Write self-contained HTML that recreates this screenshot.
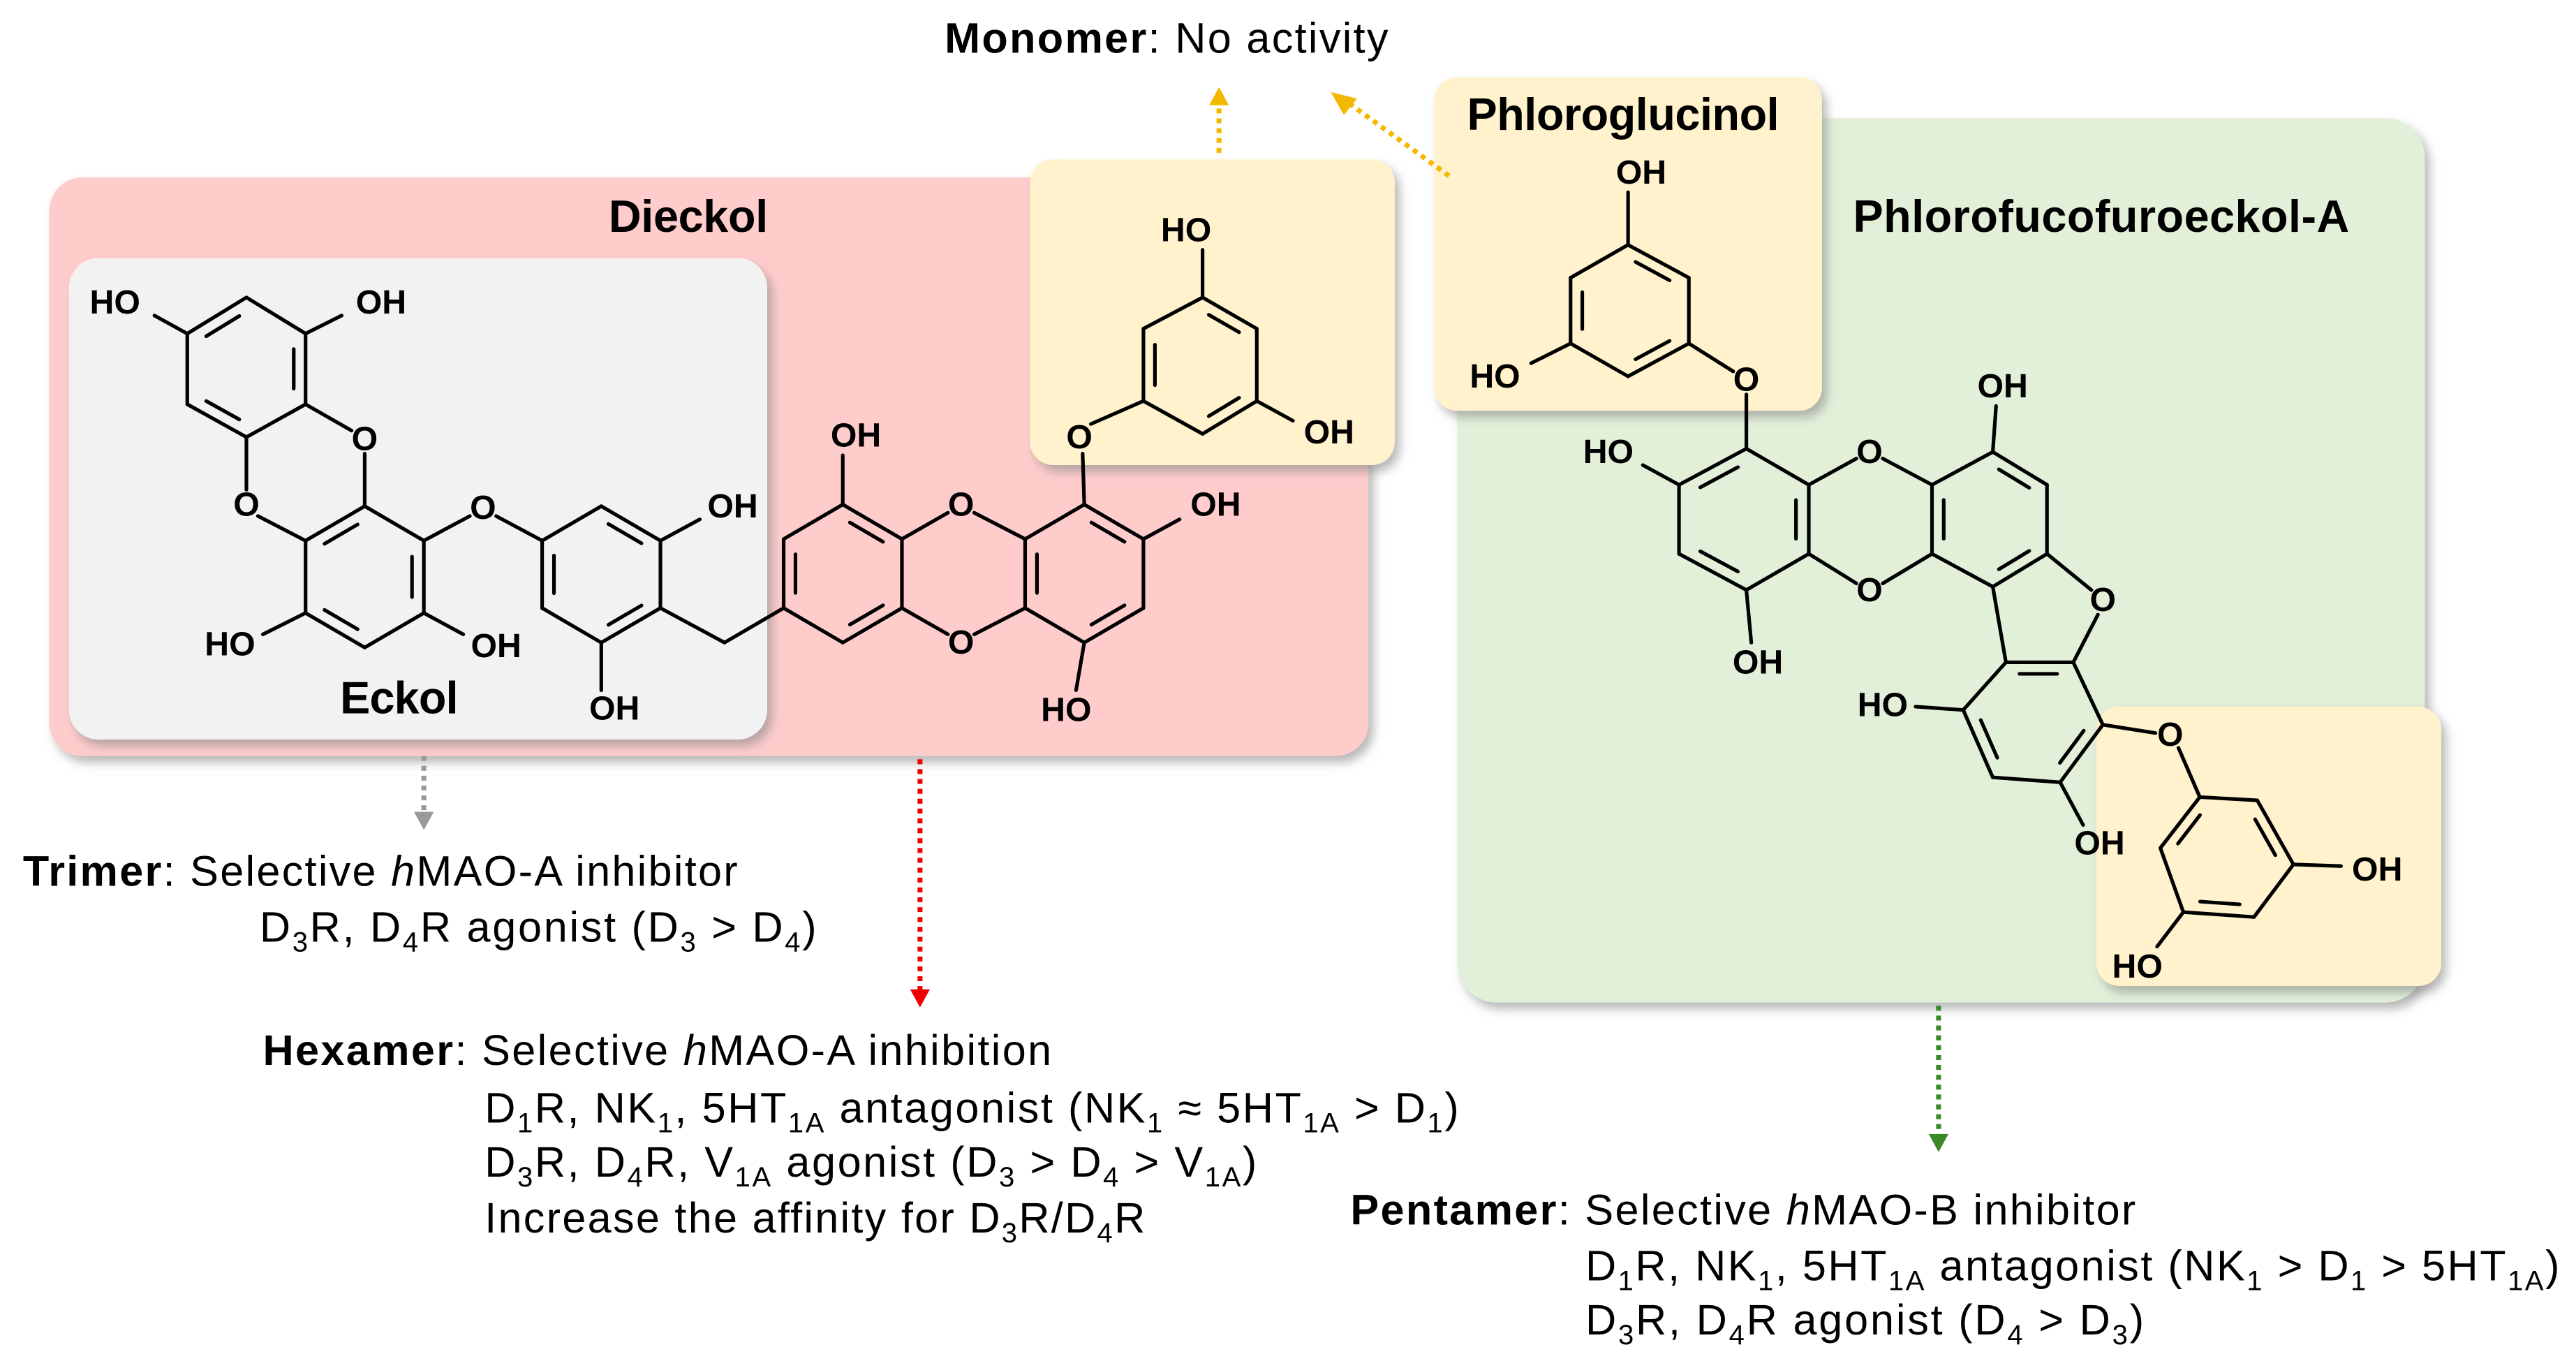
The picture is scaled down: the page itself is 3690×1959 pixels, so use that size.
<!DOCTYPE html>
<html><head><meta charset="utf-8"><style>
html,body{margin:0;padding:0;background:#fff}
svg{display:block}
.t{font-family:"Liberation Sans",sans-serif;font-size:26px;fill:#000}
.l{font-family:"Liberation Sans",sans-serif;font-size:20.5px;font-weight:bold;fill:#000;text-anchor:middle;dominant-baseline:central}
.h{font-family:"Liberation Sans",sans-serif;font-size:27.5px;font-weight:bold;fill:#000;text-anchor:middle}
</style></head><body>
<svg width="3690" height="1959" viewBox="0 0 1568 832.4" preserveAspectRatio="none" xmlns="http://www.w3.org/2000/svg">
<defs><filter id="sh" x="-5%" y="-5%" width="115%" height="115%"><feDropShadow dx="3" dy="4" stdDeviation="3" flood-color="#888" flood-opacity="0.6"/></filter></defs>
<rect x="30" y="108" width="803" height="352" rx="20" fill="#ffcccc" filter="url(#sh)"/>
<rect x="887" y="72" width="589" height="538" rx="24" fill="#e2f0d9" filter="url(#sh)"/>
<rect x="42" y="157" width="425" height="293" rx="18" fill="#f2f2f2" filter="url(#sh)"/>
<rect x="627" y="97" width="222" height="186" rx="14" fill="#fff2cc" filter="url(#sh)"/>
<rect x="873" y="47" width="236" height="203" rx="14" fill="#fff2cc" filter="url(#sh)"/>
<rect x="1276" y="430" width="210" height="170" rx="14" fill="#fff2cc" filter="url(#sh)"/>

<g id="bonds" stroke="#000" stroke-width="2.2" fill="none" stroke-linecap="round"></g>

<text class="h" x="419" y="141" textLength="97">Dieckol</text>
<text class="h" x="1279" y="141" textLength="302">Phlorofucofuroeckol-A</text>
<text class="h" x="988" y="79" textLength="190">Phloroglucinol</text>
<text class="h" x="243" y="434" textLength="72">Eckol</text>

<g>
<text class="l" x="70" y="184">HO</text><text class="l" x="232" y="184">OH</text>
<text class="l" x="222" y="267">O</text><text class="l" x="150" y="307">O</text>
<text class="l" x="140" y="392">HO</text><text class="l" x="302" y="393">OH</text>
<text class="l" x="294" y="309">O</text><text class="l" x="446" y="308">OH</text>
<text class="l" x="374" y="431">OH</text><text class="l" x="521" y="265">OH</text>
<text class="l" x="585" y="307">O</text><text class="l" x="585" y="391">O</text>
<text class="l" x="740" y="307">OH</text><text class="l" x="649" y="432">HO</text>
<text class="l" x="657" y="266">O</text><text class="l" x="722" y="140">HO</text>
<text class="l" x="809" y="263">OH</text>
<text class="l" x="999" y="105">OH</text><text class="l" x="910" y="229">HO</text>
<text class="l" x="1063" y="231">O</text><text class="l" x="979" y="275">HO</text>
<text class="l" x="1070" y="403">OH</text><text class="l" x="1138" y="275">O</text>
<text class="l" x="1138" y="359">O</text><text class="l" x="1219" y="235">OH</text>
<text class="l" x="1280" y="365">O</text><text class="l" x="1146" y="429">HO</text>
<text class="l" x="1278" y="513">OH</text><text class="l" x="1321" y="447">O</text>
<text class="l" x="1447" y="529">OH</text><text class="l" x="1301" y="588">HO</text>
</g>

<g stroke-width="3" stroke-dasharray="3 3" fill="none">
<line x1="742" y1="93" x2="742" y2="62" stroke="#f5b800"/>
<line x1="882" y1="107" x2="820" y2="62" stroke="#f5b800"/>
<line x1="258" y1="460" x2="258" y2="496" stroke="#999"/>
<line x1="560" y1="462" x2="560" y2="604" stroke="#e00"/>
<line x1="1180" y1="612" x2="1180" y2="692" stroke="#3a8a2a"/>
</g>
<polygon points="736,64 748,64 742,53" fill="#f5b800"/>
<polygon points="818,70 826,60 810,56" fill="#f5b800"/>
<polygon points="252,494 264,494 258,505" fill="#999"/>
<polygon points="554,602 566,602 560,613" fill="#e00"/>
<polygon points="1174,690 1186,690 1180,701" fill="#3a8a2a"/>

<text class="t" x="575" y="32" textLength="270"><tspan font-weight="bold">Monomer</tspan>: No activity</text>
<text class="t" x="14" y="539" textLength="435"><tspan font-weight="bold">Trimer</tspan>: Selective <tspan font-style="italic">h</tspan>MAO-A inhibitor</text>
<text class="t" x="158" y="573" textLength="339">D<tspan font-size="17" dy="6">3</tspan><tspan dy="-6">R, D</tspan><tspan font-size="17" dy="6">4</tspan><tspan dy="-6">R agonist (D</tspan><tspan font-size="17" dy="6">3</tspan><tspan dy="-6"> &gt; D</tspan><tspan font-size="17" dy="6">4</tspan><tspan dy="-6">)</tspan></text>
<text class="t" x="160" y="648" textLength="480"><tspan font-weight="bold">Hexamer</tspan>:  Selective <tspan font-style="italic">h</tspan>MAO-A inhibition</text>
<text class="t" x="295" y="683" textLength="593">D<tspan font-size="17" dy="6">1</tspan><tspan dy="-6">R, NK</tspan><tspan font-size="17" dy="6">1</tspan><tspan dy="-6">, 5HT</tspan><tspan font-size="17" dy="6">1A</tspan><tspan dy="-6"> antagonist (NK</tspan><tspan font-size="17" dy="6">1</tspan><tspan dy="-6"> ≈ 5HT</tspan><tspan font-size="17" dy="6">1A</tspan><tspan dy="-6"> &gt; D</tspan><tspan font-size="17" dy="6">1</tspan><tspan dy="-6">)</tspan></text>
<text class="t" x="295" y="716" textLength="470">D<tspan font-size="17" dy="6">3</tspan><tspan dy="-6">R, D</tspan><tspan font-size="17" dy="6">4</tspan><tspan dy="-6">R, V</tspan><tspan font-size="17" dy="6">1A</tspan><tspan dy="-6"> agonist (D</tspan><tspan font-size="17" dy="6">3</tspan><tspan dy="-6"> &gt; D</tspan><tspan font-size="17" dy="6">4</tspan><tspan dy="-6"> &gt; V</tspan><tspan font-size="17" dy="6">1A</tspan><tspan dy="-6">)</tspan></text>
<text class="t" x="295" y="750" textLength="402">Increase the affinity for D<tspan font-size="17" dy="6">3</tspan><tspan dy="-6">R/D</tspan><tspan font-size="17" dy="6">4</tspan><tspan dy="-6">R</tspan></text>
<text class="t" x="822" y="745" textLength="478"><tspan font-weight="bold">Pentamer</tspan>:  Selective <tspan font-style="italic">h</tspan>MAO-B inhibitor</text>
<text class="t" x="965" y="779" textLength="593">D<tspan font-size="17" dy="6">1</tspan><tspan dy="-6">R, NK</tspan><tspan font-size="17" dy="6">1</tspan><tspan dy="-6">, 5HT</tspan><tspan font-size="17" dy="6">1A</tspan><tspan dy="-6"> antagonist (NK</tspan><tspan font-size="17" dy="6">1</tspan><tspan dy="-6"> &gt; D</tspan><tspan font-size="17" dy="6">1</tspan><tspan dy="-6"> &gt; 5HT</tspan><tspan font-size="17" dy="6">1A</tspan><tspan dy="-6">)</tspan></text>
<text class="t" x="965" y="812" textLength="340">D<tspan font-size="17" dy="6">3</tspan><tspan dy="-6">R, D</tspan><tspan font-size="17" dy="6">4</tspan><tspan dy="-6">R agonist (D</tspan><tspan font-size="17" dy="6">4</tspan><tspan dy="-6"> &gt; D</tspan><tspan font-size="17" dy="6">3</tspan><tspan dy="-6">)</tspan></text>
</svg>
<script>
(function(){
var g=document.getElementById('bonds'),NS='http://www.w3.org/2000/svg';
function L(a,b,c,d){var e=document.createElementNS(NS,'line');e.setAttribute('x1',a);e.setAttribute('y1',b);e.setAttribute('x2',c);e.setAttribute('y2',d);g.appendChild(e);}
var rings=[
[[[150,181],[186,203],[186,246],[150,266],[114,246],[114,203]],[1,3,5]],
[[[222,308],[258,329],[258,373],[222,394],[186,373],[186,329]],[1,3,5]],
[[[366,308],[402,329],[402,370],[366,391],[330,370],[330,329]],[0,2,4]],
[[[513,307],[549,328],[549,370],[513,391],[477,370],[477,328]],[0,2,4]],
[[[660,307],[696,328],[696,370],[660,391],[624,370],[624,328]],[0,2,4]],
[[[732,181],[765,200],[765,244],[732,264],[696,244],[696,200]],[0,2,4]],
[[[991,149],[1028,169],[1028,209],[991,229],[956,209],[956,169]],[0,2,4]],
[[[1063,273],[1101,295],[1101,337],[1063,359],[1022,337],[1022,295]],[1,3,5]],
[[[1176,295],[1213,275],[1246,295],[1246,337],[1213,357],[1176,337]],[1,3,5]],
[[[1221,403],[1262,403],[1280,441],[1254,476],[1213,473],[1195,432]],[0,2,4]],
[[[1339,485],[1374,487],[1396,526],[1372,558],[1329,555],[1315,516]],[1,3,5]]];
rings.forEach(function(r){var p=r[0],cx=0,cy=0;p.forEach(function(q){cx+=q[0]/6;cy+=q[1]/6;});
for(var i=0;i<6;i++){var a=p[i],b=p[(i+1)%6];L(a[0],a[1],b[0],b[1]);
if(r[1].indexOf(i)>=0){var t=0.2;var ax=a[0]+(cx-a[0])*t,ay=a[1]+(cy-a[1])*t,bx=b[0]+(cx-b[0])*t,by=b[1]+(cy-b[1])*t;
var s=0.15;L(ax+(bx-ax)*s,ay+(by-ay)*s,bx+(ax-bx)*s,by+(ay-by)*s);}}});
var s=[
[114,203,94,192],[186,203,208,192],[186,246,214,262],[222,276,222,308],[150,266,150,298],[157,314,186,329],
[186,373,160,386],[258,373,282,386],[258,329,286,314],[302,314,330,329],[402,329,426,316],[366,391,366,420],
[402,370,441,391],[441,391,477,370],[513,307,513,277],[549,328,577,312],[593,312,624,328],[549,370,577,386],[593,386,624,370],
[660,307,659,276],[664,258,696,244],[696,328,718,316],[660,391,655,420],[732,181,732,152],[765,244,787,256],
[991,149,991,117],[956,209,932,221],[1028,209,1055,226],[1063,240,1063,273],[1022,295,1000,283],[1063,359,1066,391],
[1101,295,1130,279],[1146,279,1176,295],[1101,337,1130,355],[1146,355,1176,337],[1213,275,1215,247],
[1246,337,1273,359],[1277,374,1262,403],[1213,357,1221,403],[1195,432,1166,430],[1254,476,1268,502],
[1280,441,1312,446],[1326,455,1339,485],[1396,526,1425,527],[1329,555,1313,576]];
s.forEach(function(v){L(v[0],v[1],v[2],v[3]);});
})();
</script>
</body></html>
